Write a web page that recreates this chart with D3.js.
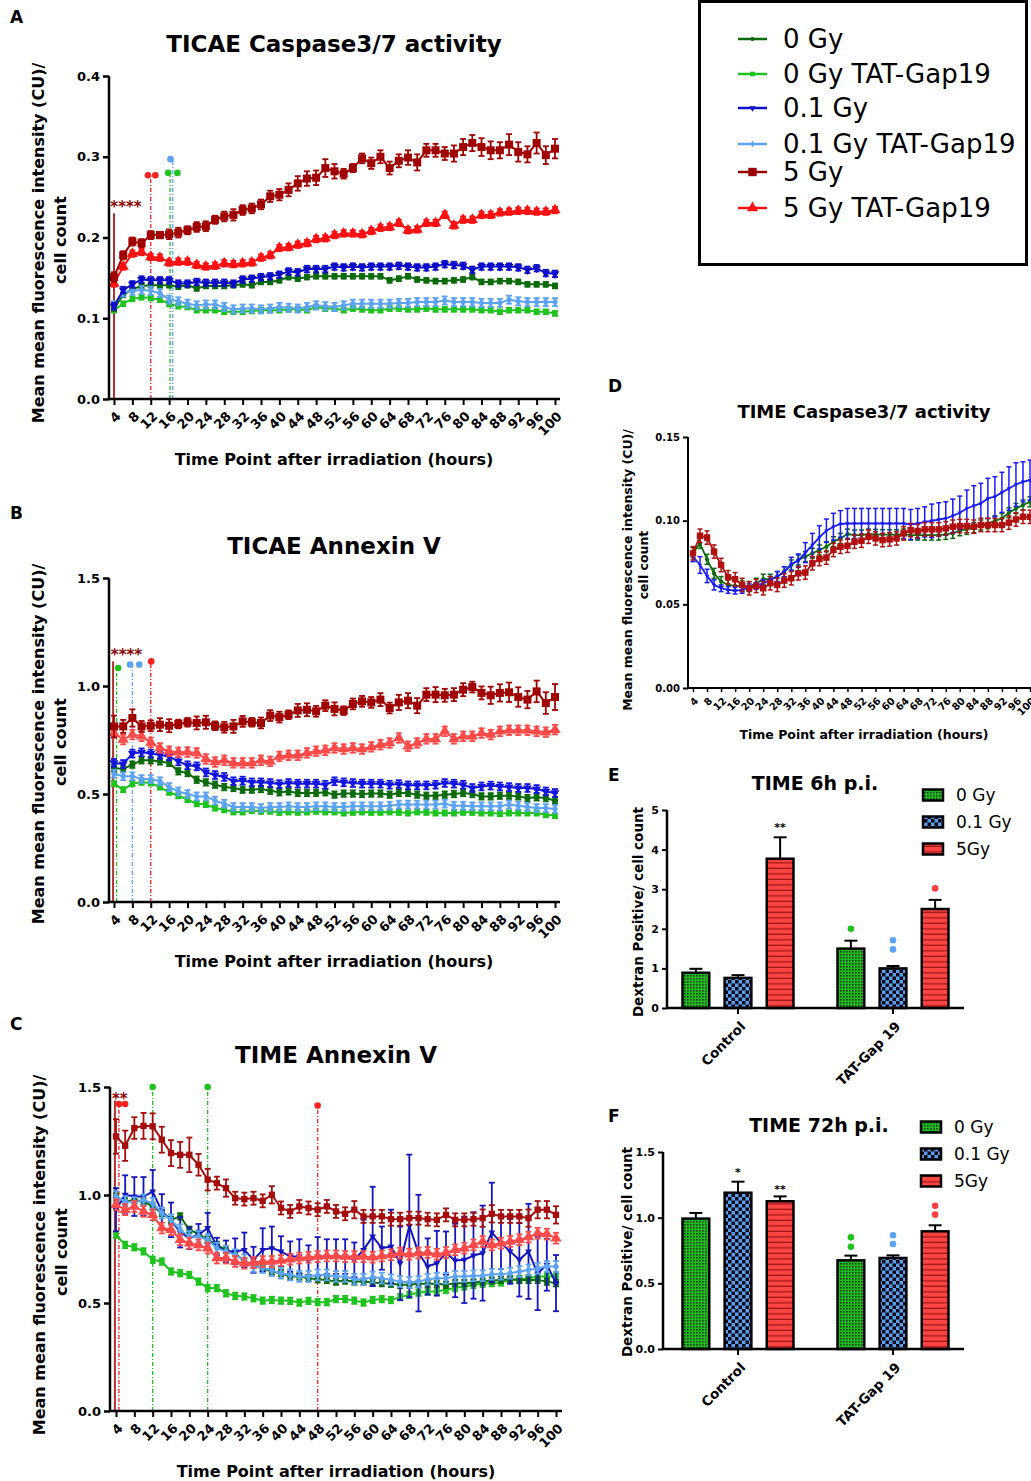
<!DOCTYPE html>
<html><head><meta charset="utf-8">
<script src="https://cdn.jsdelivr.net/npm/d3@7"></script>
<style>
body{margin:0;background:#fff}
svg{display:block}
text{font-family:"DejaVu Sans",Verdana,sans-serif}
</style>
</head><body>
<svg id="c" width="1031" height="1481"></svg>
<script>
// ---------------- DATA ----------------
const hours = [4,6,8,10,12,14,16,18,20,22,24,26,28,30,32,34,36,38,40,42,44,46,48,50,52,54,56,58,60,62,64,66,68,70,72,74,76,78,80,82,84,86,88,90,92,94,96,98,100];
const xTickHours = [4,8,12,16,20,24,28,32,36,40,44,48,52,56,60,64,68,72,76,80,84,88,92,96,100];
const seriesNames = ["0 Gy","0 Gy TAT-Gap19","0.1 Gy","0.1 Gy TAT-Gap19","5 Gy","5 Gy TAT-Gap19"];

// Panel A: TICAE Caspase3/7 activity
const A_0Gy = [0.112,0.129,0.136,0.140,0.141,0.141,0.141,0.139,0.141,0.137,0.140,0.140,0.140,0.141,0.142,0.141,0.145,0.145,0.147,0.151,0.149,0.151,0.152,0.152,0.152,0.152,0.152,0.152,0.152,0.152,0.147,0.149,0.152,0.148,0.147,0.146,0.146,0.147,0.148,0.151,0.145,0.145,0.146,0.146,0.145,0.142,0.142,0.142,0.140];
const A_0GyTAT = [0.110,0.118,0.124,0.126,0.125,0.123,0.118,0.115,0.114,0.110,0.110,0.110,0.108,0.108,0.108,0.109,0.110,0.110,0.110,0.111,0.111,0.110,0.114,0.112,0.112,0.110,0.112,0.111,0.110,0.110,0.112,0.112,0.111,0.111,0.112,0.111,0.111,0.111,0.111,0.111,0.110,0.110,0.108,0.110,0.110,0.110,0.108,0.108,0.106];
const A_01Gy = [0.115,0.135,0.142,0.148,0.147,0.147,0.147,0.143,0.143,0.145,0.144,0.144,0.144,0.143,0.148,0.149,0.151,0.152,0.154,0.158,0.157,0.161,0.161,0.161,0.164,0.163,0.164,0.163,0.164,0.164,0.164,0.165,0.164,0.163,0.163,0.164,0.167,0.166,0.165,0.160,0.164,0.164,0.164,0.164,0.163,0.160,0.162,0.156,0.155];
const A_01GyTAT = [0.116,0.132,0.134,0.135,0.134,0.131,0.123,0.121,0.118,0.116,0.117,0.117,0.114,0.111,0.112,0.112,0.111,0.112,0.114,0.113,0.112,0.114,0.116,0.115,0.114,0.116,0.118,0.118,0.118,0.118,0.118,0.119,0.119,0.120,0.120,0.120,0.122,0.120,0.120,0.120,0.119,0.119,0.119,0.123,0.121,0.120,0.120,0.120,0.120];
const A_5Gy = [0.151,0.178,0.195,0.193,0.203,0.203,0.204,0.206,0.209,0.213,0.214,0.222,0.226,0.228,0.234,0.236,0.241,0.251,0.253,0.259,0.267,0.273,0.274,0.286,0.282,0.279,0.286,0.298,0.292,0.300,0.286,0.295,0.299,0.293,0.308,0.308,0.304,0.304,0.312,0.317,0.312,0.308,0.308,0.315,0.306,0.303,0.317,0.302,0.310];
const A_5GyTAT = [0.143,0.164,0.180,0.182,0.176,0.175,0.169,0.170,0.170,0.166,0.164,0.165,0.168,0.167,0.168,0.169,0.175,0.178,0.187,0.188,0.191,0.193,0.198,0.199,0.203,0.205,0.205,0.204,0.208,0.212,0.213,0.218,0.209,0.210,0.218,0.218,0.228,0.215,0.222,0.222,0.228,0.228,0.231,0.232,0.233,0.233,0.232,0.232,0.234];
const A_5Gy_err = [0.006,0.005,0.005,0.005,0.005,0.004,0.006,0.006,0.005,0.006,0.006,0.005,0.006,0.007,0.006,0.006,0.006,0.007,0.007,0.008,0.009,0.009,0.009,0.011,0.009,0.006,0.005,0.006,0.007,0.008,0.008,0.008,0.009,0.010,0.008,0.008,0.008,0.010,0.010,0.010,0.011,0.011,0.010,0.013,0.012,0.010,0.013,0.011,0.012];
const A_err = {"0 Gy":0.003,"0 Gy TAT-Gap19":0.003,"0.1 Gy":0.004,"0.1 Gy TAT-Gap19":0.005,"5 Gy TAT-Gap19":0.004};
const A_sigLines = [{h:4,top:0.230,c:"5 Gy",solid:true},{h:12,top:0.276,c:"5 Gy TAT-Gap19"},{h:16.2,top:0.279,c:"0 Gy TAT-Gap19"},{h:16.8,top:0.296,c:"0.1 Gy TAT-Gap19"}];
const A_sigDots = [{h:11.4,v:0.277,c:"5 Gy TAT-Gap19"},{h:13.0,v:0.277,c:"5 Gy TAT-Gap19"},{h:15.8,v:0.280,c:"0 Gy TAT-Gap19"},{h:17.8,v:0.280,c:"0 Gy TAT-Gap19"},{h:16.3,v:0.297,c:"0.1 Gy TAT-Gap19"}];
const A_sigText = [{h:3.2,v:0.243,t:"****"}];

// Panel B: TICAE Annexin V
const B_0Gy = [0.620,0.616,0.636,0.656,0.656,0.651,0.644,0.605,0.597,0.566,0.554,0.543,0.532,0.528,0.520,0.520,0.523,0.515,0.508,0.512,0.505,0.505,0.505,0.508,0.497,0.502,0.502,0.500,0.502,0.502,0.497,0.505,0.505,0.497,0.492,0.492,0.497,0.500,0.505,0.500,0.489,0.489,0.492,0.492,0.489,0.481,0.485,0.481,0.469];
const B_0GyTAT = [0.548,0.520,0.548,0.554,0.551,0.532,0.508,0.492,0.474,0.455,0.451,0.435,0.427,0.417,0.417,0.423,0.420,0.420,0.415,0.417,0.415,0.417,0.420,0.417,0.417,0.412,0.415,0.417,0.415,0.415,0.417,0.415,0.412,0.417,0.415,0.412,0.412,0.412,0.415,0.415,0.412,0.412,0.409,0.412,0.412,0.412,0.412,0.404,0.400];
const B_01Gy = [0.644,0.639,0.687,0.693,0.687,0.681,0.674,0.651,0.633,0.628,0.600,0.588,0.579,0.559,0.562,0.554,0.554,0.551,0.546,0.551,0.548,0.548,0.548,0.543,0.559,0.554,0.551,0.548,0.548,0.548,0.543,0.546,0.540,0.540,0.540,0.543,0.551,0.548,0.543,0.528,0.535,0.539,0.535,0.532,0.528,0.528,0.523,0.512,0.505];
const B_01GyTAT = [0.594,0.582,0.582,0.569,0.569,0.559,0.532,0.512,0.500,0.489,0.489,0.469,0.455,0.440,0.440,0.440,0.435,0.440,0.440,0.443,0.440,0.440,0.443,0.443,0.440,0.440,0.443,0.443,0.443,0.443,0.446,0.451,0.451,0.451,0.451,0.451,0.455,0.446,0.446,0.443,0.443,0.443,0.443,0.451,0.446,0.440,0.435,0.435,0.431];
const B_5Gy = [0.813,0.813,0.852,0.813,0.816,0.821,0.816,0.824,0.832,0.829,0.832,0.816,0.809,0.813,0.836,0.832,0.829,0.863,0.856,0.867,0.887,0.890,0.883,0.909,0.894,0.886,0.917,0.929,0.924,0.937,0.898,0.924,0.932,0.909,0.960,0.960,0.957,0.960,0.983,0.995,0.968,0.957,0.968,0.971,0.949,0.937,0.975,0.921,0.949];
const B_5GyTAT = [0.782,0.752,0.775,0.767,0.739,0.713,0.698,0.693,0.694,0.690,0.662,0.648,0.656,0.644,0.644,0.644,0.656,0.651,0.674,0.679,0.679,0.690,0.698,0.702,0.713,0.708,0.713,0.708,0.718,0.728,0.736,0.759,0.721,0.736,0.755,0.755,0.790,0.755,0.767,0.767,0.782,0.775,0.790,0.795,0.795,0.795,0.790,0.786,0.798];
const B_5Gy_err = [0.05,0.03,0.04,0.025,0.025,0.03,0.03,0.02,0.02,0.03,0.03,0.02,0.025,0.03,0.025,0.02,0.025,0.025,0.025,0.02,0.03,0.03,0.025,0.025,0.03,0.02,0.025,0.025,0.025,0.03,0.025,0.035,0.035,0.035,0.03,0.035,0.03,0.03,0.03,0.025,0.03,0.04,0.04,0.045,0.045,0.04,0.05,0.05,0.06];
const B_err = {"0 Gy":0.015,"0 Gy TAT-Gap19":0.012,"0.1 Gy":0.018,"0.1 Gy TAT-Gap19":0.018,"5 Gy TAT-Gap19":0.022};
const B_sigLines = [{h:3.8,top:1.114,c:"5 Gy",solid:true},{h:4.56,top:1.083,c:"0 Gy TAT-Gap19"},{h:8,top:1.099,c:"0.1 Gy TAT-Gap19"},{h:12,top:1.114,c:"5 Gy TAT-Gap19"}];
const B_sigDots = [{h:4.9,v:1.083,c:"0 Gy TAT-Gap19"},{h:7.5,v:1.099,c:"0.1 Gy TAT-Gap19"},{h:9.5,v:1.099,c:"0.1 Gy TAT-Gap19"},{h:12.1,v:1.114,c:"5 Gy TAT-Gap19"}];
const B_sigText = [{h:3.3,v:1.160,t:"****"}];

// Panel C: TIME Annexin V
const C_0Gy = [0.993,0.970,0.977,0.970,0.947,0.917,0.885,0.901,0.839,0.820,0.793,0.769,0.746,0.731,0.692,0.677,0.661,0.646,0.638,0.623,0.623,0.615,0.610,0.607,0.599,0.604,0.599,0.599,0.595,0.592,0.589,0.584,0.584,0.589,0.589,0.589,0.584,0.592,0.592,0.595,0.599,0.604,0.607,0.610,0.607,0.607,0.607,0.599,0.592];
const C_0GyTAT = [0.816,0.769,0.758,0.739,0.700,0.692,0.646,0.638,0.630,0.599,0.569,0.569,0.545,0.533,0.530,0.522,0.511,0.514,0.511,0.510,0.502,0.510,0.504,0.504,0.518,0.518,0.511,0.502,0.514,0.518,0.514,0.527,0.538,0.548,0.553,0.553,0.561,0.569,0.576,0.584,0.589,0.592,0.595,0.607,0.610,0.615,0.623,0.623,0.623];
const C_01Gy = [0.932,1.001,0.993,0.993,1.016,0.924,0.885,0.827,0.800,0.816,0.847,0.762,0.739,0.739,0.746,0.700,0.746,0.754,0.739,0.715,0.715,0.697,0.715,0.715,0.715,0.715,0.700,0.746,0.808,0.754,0.762,0.684,0.857,0.731,0.669,0.684,0.731,0.697,0.700,0.720,0.731,0.827,0.777,0.739,0.700,0.739,0.637,0.677,0.592];
const C_01GyTAT = [0.993,0.970,0.965,0.977,0.962,0.917,0.885,0.839,0.808,0.808,0.793,0.754,0.739,0.723,0.700,0.669,0.664,0.650,0.638,0.630,0.623,0.623,0.630,0.630,0.623,0.623,0.610,0.610,0.620,0.615,0.607,0.599,0.595,0.599,0.610,0.615,0.615,0.623,0.623,0.626,0.626,0.633,0.633,0.638,0.646,0.653,0.661,0.669,0.669];
const C_5Gy = [1.271,1.228,1.310,1.320,1.318,1.256,1.194,1.186,1.186,1.140,1.071,1.055,1.032,0.985,0.981,0.985,0.973,1.001,0.940,0.924,0.947,0.940,0.932,0.947,0.924,0.913,0.932,0.901,0.901,0.901,0.888,0.888,0.893,0.893,0.888,0.885,0.908,0.885,0.885,0.888,0.893,0.913,0.901,0.901,0.901,0.893,0.932,0.932,0.908];
const C_5GyTAT = [0.955,0.932,0.947,0.924,0.908,0.847,0.839,0.793,0.777,0.769,0.754,0.708,0.708,0.692,0.684,0.687,0.692,0.692,0.697,0.703,0.708,0.712,0.715,0.718,0.718,0.715,0.715,0.715,0.712,0.718,0.723,0.731,0.726,0.731,0.734,0.726,0.734,0.746,0.754,0.769,0.785,0.769,0.777,0.785,0.793,0.805,0.823,0.819,0.800];
const C_5Gy_err = [0.08,0.07,0.05,0.06,0.06,0.06,0.06,0.06,0.08,0.05,0.05,0.03,0.04,0.03,0.03,0.03,0.03,0.04,0.03,0.03,0.03,0.03,0.03,0.03,0.03,0.03,0.04,0.03,0.03,0.03,0.03,0.03,0.03,0.03,0.03,0.03,0.03,0.03,0.03,0.03,0.04,0.04,0.03,0.03,0.03,0.04,0.04,0.04,0.04];
const C_01Gy_err = [0.10,0.09,0.09,0.09,0.10,0.08,0.08,0.07,0.05,0.05,0.07,0.04,0.05,0.06,0.08,0.06,0.10,0.10,0.07,0.07,0.08,0.07,0.09,0.08,0.08,0.08,0.08,0.14,0.23,0.10,0.17,0.17,0.33,0.27,0.13,0.15,0.10,0.17,0.20,0.20,0.22,0.23,0.12,0.15,0.17,0.22,0.17,0.12,0.13];
const C_err = {"0 Gy":0.015,"0 Gy TAT-Gap19":0.015,"0.1 Gy TAT-Gap19":0.025,"5 Gy TAT-Gap19":0.025};
const C_sigLines = [{h:3.76,top:1.438,c:"5 Gy",solid:true},{h:4.64,top:1.421,c:"5 Gy TAT-Gap19"},{h:12,top:1.5,c:"0 Gy TAT-Gap19"},{h:24,top:1.5,c:"0 Gy TAT-Gap19"},{h:48,top:1.414,c:"5 Gy TAT-Gap19"}];
const C_sigDots = [{h:4.64,v:1.421,c:"5 Gy TAT-Gap19"},{h:6.0,v:1.421,c:"5 Gy TAT-Gap19"},{h:12,v:1.5,c:"0 Gy TAT-Gap19"},{h:24,v:1.5,c:"0 Gy TAT-Gap19"},{h:48,v:1.414,c:"5 Gy TAT-Gap19"}];
const C_sigText = [{h:3.1,v:1.465,t:"**"}];

// Panel D: TIME Caspase3/7 activity
const D_0Gy = [0.0809,0.0864,0.0769,0.0685,0.0636,0.0616,0.0610,0.0610,0.0606,0.0626,0.0650,0.0650,0.0666,0.0695,0.0735,0.0765,0.0785,0.0805,0.0825,0.0844,0.0874,0.0894,0.0920,0.0914,0.0914,0.0920,0.0918,0.0916,0.0916,0.0916,0.0920,0.0914,0.0914,0.0914,0.0914,0.0914,0.0918,0.0924,0.0940,0.0948,0.0958,0.0974,0.0983,0.0999,0.1013,0.1047,0.1073,0.1093,0.1113];
const D_01Gy = [0.0785,0.0735,0.0670,0.0616,0.0596,0.0586,0.0582,0.0586,0.0602,0.0610,0.0626,0.0646,0.0666,0.0695,0.0741,0.0761,0.0809,0.0854,0.0900,0.0940,0.0964,0.0980,0.0983,0.0983,0.0983,0.0983,0.0983,0.0983,0.0983,0.0983,0.0983,0.0977,0.0983,0.0993,0.0999,0.1007,0.1013,0.1029,0.1047,0.1073,0.1089,0.1103,0.1133,0.1143,0.1169,0.1192,0.1216,0.1232,0.1242];
const D_5Gy = [0.0805,0.0910,0.0899,0.0815,0.0735,0.0662,0.0650,0.0616,0.0596,0.0610,0.0596,0.0626,0.0616,0.0642,0.0656,0.0685,0.0690,0.0745,0.0771,0.0779,0.0825,0.0844,0.0850,0.0874,0.0880,0.0904,0.0894,0.0884,0.0888,0.0894,0.0924,0.0944,0.0938,0.0948,0.0948,0.0948,0.0954,0.0964,0.0968,0.0968,0.0964,0.0974,0.0974,0.0974,0.0974,0.0988,0.1007,0.1023,0.1023];
const D_01Gy_err = [0.003,0.005,0.004,0.003,0.002,0.002,0.002,0.002,0.002,0.002,0.002,0.002,0.003,0.003,0.004,0.004,0.006,0.007,0.007,0.007,0.008,0.008,0.009,0.009,0.009,0.009,0.009,0.009,0.009,0.009,0.009,0.009,0.009,0.009,0.010,0.010,0.010,0.010,0.010,0.011,0.012,0.012,0.012,0.012,0.012,0.013,0.013,0.012,0.012];
const D_err = {"0 Gy":0.003,"5 Gy":0.004};

// Panels E, F: Dextran positive bars
const barGroups = ["Control","TAT-Gap 19"];
const barDoses = ["0 Gy","0.1 Gy","5Gy"];
const E_values = {"Control":[0.89,0.76,3.77],"TAT-Gap 19":[1.50,1.00,2.50]};
const E_errors = {"Control":[0.10,0.07,0.54],"TAT-Gap 19":[0.20,0.06,0.23]};
const E_stars = [{g:"Control",d:"5Gy",v:4.62,t:"**"}];
const E_dots = [{g:"TAT-Gap 19",d:"0 Gy",v:[2.0]},{g:"TAT-Gap 19",d:"0.1 Gy",v:[1.48,1.71]},{g:"TAT-Gap 19",d:"5Gy",v:[3.02]}];
const F_values = {"Control":[0.993,1.19,1.125],"TAT-Gap 19":[0.675,0.693,0.896]};
const F_errors = {"Control":[0.043,0.084,0.037],"TAT-Gap 19":[0.036,0.02,0.046]};
const F_stars = [{g:"Control",d:"0.1 Gy",v:1.36,t:"*"},{g:"Control",d:"5Gy",v:1.23,t:"**"}];
const F_dots = [{g:"TAT-Gap 19",d:"0 Gy",v:[0.779,0.850]},{g:"TAT-Gap 19",d:"0.1 Gy",v:[0.80,0.866]},{g:"TAT-Gap 19",d:"5Gy",v:[1.023,1.091]}];

// ---------------- STYLES ----------------
const style = {
  "0 Gy":{color:"#0b6b0b",shape:"circle",size:30},
  "0 Gy TAT-Gap19":{color:"#1ec31e",shape:"square",size:30},
  "0.1 Gy":{color:"#0b0bc8",shape:"tridown",size:34},
  "0.1 Gy TAT-Gap19":{color:"#5ca3f5",shape:"diamond",size:30},
  "5 Gy":{color:"#a00000",shape:"square",size:64},
  "5 Gy TAT-Gap19":{color:"#ff1010",shape:"triangle",size:55}
};
const sigColor = {"5 Gy":"#b03030","5 Gy TAT-Gap19":"#ff2020","0 Gy TAT-Gap19":"#1ec31e","0.1 Gy TAT-Gap19":"#5ca3f5"};
const FONT = '"DejaVu Sans",Verdana,sans-serif';

const svg = d3.select("#c");
const defs = svg.append("defs");

function symPath(shape, size){
  const t = {circle:d3.symbolCircle,square:d3.symbolSquare,triangle:d3.symbolTriangle,tridown:d3.symbolTriangle,diamond:d3.symbolDiamond}[shape];
  return d3.symbol().type(t).size(size)();
}

function txt(g, x, y, s, o){
  const t = g.append("text").attr("x",x).attr("y",y).text(s)
    .attr("font-size",o.size).attr("font-weight",o.bold?"bold":"normal")
    .attr("text-anchor",o.anchor||"start").attr("fill",o.color||"#000");
  if(o.rotate!==undefined) t.attr("transform",`rotate(${o.rotate},${x},${y})`);
  return t;
}

// ---------------- LINE PANELS ----------------
function linePanel(p){
  const g = svg.append("g");
  const x = d3.scaleLinear().domain([4,100]).range(p.xRange);
  const y = d3.scaleLinear().domain([0,p.yMax]).range([p.yBottom,p.yTop]);

  (p.sigLines||[]).forEach(l=>{
    g.append("line").attr("x1",x(l.h)).attr("x2",x(l.h)).attr("y1",y(0)).attr("y2",y(l.top))
      .attr("stroke",sigColor[l.c]).attr("stroke-width",l.solid?2:1.3)
      .attr("stroke-dasharray",l.solid?null:"4,2,1,2");
  });

  p.series.forEach(s=>{
    const st = style[s.name];
    const color = s.color || st.color;
    const pts = hours.map((h,i)=>({h, v:s.values[i], e:Array.isArray(s.err)?s.err[i]:s.err}));
    const eg = g.append("g").attr("stroke",color).attr("stroke-width",p.ebw||1.8);
    pts.forEach(d=>{
      const cx = x(d.h), y1 = y(d.v+d.e), y0 = y(d.v-d.e), cw = p.cap||3;
      eg.append("line").attr("x1",cx).attr("x2",cx).attr("y1",y0).attr("y2",y1);
      eg.append("line").attr("x1",cx-cw).attr("x2",cx+cw).attr("y1",y1).attr("y2",y1);
      eg.append("line").attr("x1",cx-cw).attr("x2",cx+cw).attr("y1",y0).attr("y2",y0);
    });
    g.append("path").datum(pts)
      .attr("d",d3.line().x(d=>x(d.h)).y(d=>y(d.v)).curve(p.curve||d3.curveLinear))
      .attr("fill","none").attr("stroke",color).attr("stroke-width",p.lw||2);
    const ms = (s.msize!==undefined)? s.msize : st.size*(p.mscale||1);
    if(ms>0){
      g.append("g").selectAll("path").data(pts).join("path")
        .attr("d",symPath(st.shape, ms))
        .attr("transform",d=>`translate(${x(d.h)},${y(d.v)})${st.shape==="tridown"?" rotate(180)":""}`)
        .attr("fill",color);
    }
  });

  (p.sigDots||[]).forEach(d=>{
    g.append("circle").attr("cx",x(d.h)).attr("cy",y(d.v)).attr("r",3.3).attr("fill",sigColor[d.c]);
  });
  (p.sigText||[]).forEach(d=>{
    txt(g,x(d.h),y(d.v)+9,d.t,{size:15,bold:true,color:"#8b0000"});
  });

  const ya = g.append("g").attr("transform",`translate(${p.x0},0)`)
    .call(d3.axisLeft(y).tickValues(p.yTicks).tickFormat(d3.format(p.fmt)).tickSize(p.tick||6).tickSizeOuter(0));
  ya.select(".domain").attr("stroke-width",p.axw||2.5).attr("d",`M0,${p.yBottom}V${p.yTop}`);
  ya.selectAll(".tick line").attr("stroke-width",p.axw||2.5);
  ya.selectAll(".tick text").attr("font-family",FONT).attr("font-weight","bold").attr("font-size",p.ytf).attr("x",-(p.tick||6)-3);

  const xa = g.append("g").attr("transform",`translate(0,${p.yBottom})`)
    .call(d3.axisBottom(x).tickValues(xTickHours).tickSize(p.xtick||6).tickSizeOuter(0));
  xa.select(".domain").attr("stroke-width",p.axw||2.5).attr("d",`M${p.x0},0H${p.x1}`);
  xa.selectAll(".tick line").attr("stroke-width",p.xtw||2);
  xa.selectAll(".tick text").attr("font-family",FONT).attr("font-weight","bold").attr("font-size",p.xtf)
    .attr("text-anchor","end").attr("x",0).attr("y",0).attr("dy","0.35em")
    .attr("transform",`translate(${p.xlo[0]},${p.xlo[1]}) rotate(-45)`);

  txt(g,p.letter[1],p.letter[2],p.letter[0],{size:17,bold:true});
  txt(g,p.title[1],p.title[2],p.title[0],{size:p.titleSize,bold:true,anchor:"middle"});
  txt(g,p.xlab[0],p.xlab[1],"Time Point after irradiation (hours)",{size:p.xlabSize,bold:true,anchor:"middle"});
  txt(g,p.ylab1[0],p.ylab1[1],"Mean mean fluorescence intensity (CU)/",{size:p.ylabSize,bold:true,anchor:"middle",rotate:-90});
  txt(g,p.ylab2[0],p.ylab2[1],"cell count",{size:p.ylabSize,bold:true,anchor:"middle",rotate:-90});
}

const red2 = "#ff4a4a";
linePanel({
  x0:109,x1:560,xRange:[114,555],yTop:76,yBottom:399,yMax:0.4,yTicks:[0,0.1,0.2,0.3,0.4],fmt:".1f",
  ytf:13,xtf:13,xlo:[4,15],letter:["A",10,23],title:["TICAE Caspase3/7 activity",334,52],titleSize:23,
  xlab:[334,465],xlabSize:16,ylab1:[44,243],ylab2:[66,240],ylabSize:16,
  series:[
    {name:"0 Gy TAT-Gap19",values:A_0GyTAT,err:A_err["0 Gy TAT-Gap19"]},
    {name:"0 Gy",values:A_0Gy,err:A_err["0 Gy"]},
    {name:"0.1 Gy TAT-Gap19",values:A_01GyTAT,err:A_err["0.1 Gy TAT-Gap19"]},
    {name:"0.1 Gy",values:A_01Gy,err:A_err["0.1 Gy"]},
    {name:"5 Gy TAT-Gap19",values:A_5GyTAT,err:A_err["5 Gy TAT-Gap19"]},
    {name:"5 Gy",values:A_5Gy,err:A_5Gy_err}
  ],
  sigLines:A_sigLines,sigDots:A_sigDots,sigText:A_sigText
});
linePanel({
  x0:109,x1:560,xRange:[114,555],yTop:578,yBottom:902,yMax:1.5,yTicks:[0,0.5,1.0,1.5],fmt:".1f",
  ytf:13,xtf:13,xlo:[4,15],letter:["B",10,519],title:["TICAE Annexin V",334,554],titleSize:23,
  xlab:[334,967],xlabSize:16,ylab1:[44,744],ylab2:[66,742],ylabSize:16,
  series:[
    {name:"0 Gy TAT-Gap19",values:B_0GyTAT,err:B_err["0 Gy TAT-Gap19"]},
    {name:"0 Gy",values:B_0Gy,err:B_err["0 Gy"]},
    {name:"0.1 Gy TAT-Gap19",values:B_01GyTAT,err:B_err["0.1 Gy TAT-Gap19"]},
    {name:"0.1 Gy",values:B_01Gy,err:B_err["0.1 Gy"],color:"#1414e0"},
    {name:"5 Gy TAT-Gap19",values:B_5GyTAT,err:B_err["5 Gy TAT-Gap19"],color:red2},
    {name:"5 Gy",values:B_5Gy,err:B_5Gy_err}
  ],
  sigLines:B_sigLines,sigDots:B_sigDots,sigText:B_sigText
});
linePanel({
  x0:110,x1:562,xRange:[116,556],yTop:1087,yBottom:1411,yMax:1.5,yTicks:[0,0.5,1.0,1.5],fmt:".1f",
  ytf:13,xtf:13,xlo:[4,15],letter:["C",10,1030],title:["TIME Annexin V",336,1063],titleSize:23,
  xlab:[336,1477],xlabSize:16,ylab1:[45,1255],ylab2:[67,1252],ylabSize:16,
  series:[
    {name:"0 Gy TAT-Gap19",values:C_0GyTAT,err:C_err["0 Gy TAT-Gap19"]},
    {name:"0 Gy",values:C_0Gy,err:C_err["0 Gy"]},
    {name:"0.1 Gy",values:C_01Gy,err:C_01Gy_err,color:"#1515c0",msize:20},
    {name:"0.1 Gy TAT-Gap19",values:C_01GyTAT,err:C_err["0.1 Gy TAT-Gap19"]},
    {name:"5 Gy TAT-Gap19",values:C_5GyTAT,err:C_err["5 Gy TAT-Gap19"],color:red2},
    {name:"5 Gy",values:C_5Gy,err:C_5Gy_err,color:"#a50d0d",msize:40}
  ],
  sigLines:C_sigLines,sigDots:C_sigDots,sigText:C_sigText
});
linePanel({
  x0:688,x1:1040,xRange:[693,1030],yTop:437,yBottom:688,yMax:0.15,yTicks:[0,0.05,0.10,0.15],fmt:".2f",
  ytf:10,xtf:10,xlo:[3,11],tick:5,xtick:4,axw:2,xtw:1.5,cap:2.5,ebw:1.5,lw:1.8,
  letter:["D",608,392],title:["TIME Caspase3/7 activity",864,418],titleSize:18,
  xlab:[864,739],xlabSize:12.5,ylab1:[632,570],ylab2:[648,565],ylabSize:12.5,
  series:[
    {name:"0 Gy",values:D_0Gy,err:D_err["0 Gy"],msize:14},
    {name:"0.1 Gy",values:D_01Gy,err:D_01Gy_err,color:"#1a1aff",msize:8},
    {name:"5 Gy",values:D_5Gy,err:D_err["5 Gy"],color:"#b01010",msize:42}
  ]
});

// ---------------- MAIN LEGEND ----------------
(function(){
  const g = svg.append("g");
  g.append("rect").attr("x",699.5).attr("y",1.5).attr("width",327).attr("height",263)
    .attr("fill","#fff").attr("stroke","#000").attr("stroke-width",3);
  const ys = [39,74,108,144,172,208];
  const legColor = {"5 Gy TAT-Gap19":"#ff1010","0.1 Gy":"#1010d0","5 Gy":"#9b0000"};
  const legSize = {"0 Gy":14,"0 Gy TAT-Gap19":22,"0.1 Gy":18,"0.1 Gy TAT-Gap19":14,"5 Gy":70,"5 Gy TAT-Gap19":55};
  seriesNames.forEach((n,i)=>{
    const st = style[n], c = legColor[n]||st.color, yy = ys[i];
    g.append("line").attr("x1",738).attr("x2",767).attr("y1",yy).attr("y2",yy).attr("stroke",c).attr("stroke-width",2.5);
    g.append("path").attr("d",symPath(st.shape,legSize[n]))
      .attr("transform",`translate(752.5,${yy})${st.shape==="tridown"?" rotate(180)":""}`).attr("fill",c);
    txt(g,783,yy+9,n,{size:26});
  });
})();

// ---------------- BAR PANELS ----------------
(function(){
  const pg = defs.append("pattern").attr("id","pGreen").attr("patternUnits","userSpaceOnUse").attr("width",3).attr("height",3);
  pg.append("rect").attr("width",3).attr("height",3).attr("fill","#22b822");
  pg.append("rect").attr("width",1.5).attr("height",1.5).attr("fill","#063806");
  const pb = defs.append("pattern").attr("id","pBlue").attr("patternUnits","userSpaceOnUse").attr("width",7).attr("height",7);
  pb.append("rect").attr("width",7).attr("height",7).attr("fill","#5b9ef0");
  pb.append("rect").attr("width",3.5).attr("height",3.5).attr("fill","#0a0a14");
  pb.append("rect").attr("x",3.5).attr("y",3.5).attr("width",3.5).attr("height",3.5).attr("fill","#0a0a14");
  const pr = defs.append("pattern").attr("id","pRed").attr("patternUnits","userSpaceOnUse").attr("width",6).attr("height",5.5);
  pr.append("rect").attr("width",6).attr("height",5.5).attr("fill","#ff4444");
  pr.append("rect").attr("y",4.2).attr("width",6).attr("height",1.3).attr("fill","#a01818");
})();
const barFill = {"0 Gy":"url(#pGreen)","0.1 Gy":"url(#pBlue)","5Gy":"url(#pRed)"};
const dotColor = {"0 Gy":"#1ec31e","0.1 Gy":"#5ca3f5","5Gy":"#ff4040"};

function barPanel(p){
  const g = svg.append("g");
  const x0 = d3.scaleBand().domain(barGroups).range([667,964]).paddingInner(0.284).paddingOuter(0.1);
  const x1 = d3.scaleBand().domain(barDoses).range([0,x0.bandwidth()]).paddingInner(0.365).paddingOuter(0);
  const y = d3.scaleLinear().domain([0,p.yMax]).range([p.yBottom,p.yTop]);

  barGroups.forEach(gr=>{
    barDoses.forEach((d,i)=>{
      const v = p.values[gr][i], e = p.errors[gr][i];
      const bx = x0(gr)+x1(d), bw = x1.bandwidth(), cx = bx+bw/2;
      g.append("line").attr("x1",cx).attr("x2",cx).attr("y1",y(v)).attr("y2",y(v+e)).attr("stroke","#000").attr("stroke-width",2);
      g.append("line").attr("x1",cx-6.5).attr("x2",cx+6.5).attr("y1",y(v+e)).attr("y2",y(v+e)).attr("stroke","#000").attr("stroke-width",2);
      g.append("rect").attr("x",bx).attr("y",y(v)).attr("width",bw).attr("height",y(0)-y(v))
        .attr("fill",barFill[d]).attr("stroke","#000").attr("stroke-width",2.5);
    });
  });
  p.stars.forEach(s=>{
    txt(g,x0(s.g)+x1(s.d)+x1.bandwidth()/2,y(s.v)+6,s.t,{size:11,bold:true,anchor:"middle"});
  });
  p.dots.forEach(s=>{
    s.v.forEach(v=>g.append("circle").attr("cx",x0(s.g)+x1(s.d)+x1.bandwidth()/2).attr("cy",y(v)).attr("r",3.3).attr("fill",dotColor[s.d]));
  });

  const ya = g.append("g").attr("transform",`translate(${p.x0},0)`)
    .call(d3.axisLeft(y).tickValues(p.yTicks).tickFormat(d3.format(p.fmt)).tickSize(5).tickSizeOuter(0));
  ya.select(".domain").attr("stroke-width",2.5).attr("d",`M0,${p.yBottom}V${p.yTop}`);
  ya.selectAll(".tick line").attr("stroke-width",2);
  ya.selectAll(".tick text").attr("font-family",FONT).attr("font-weight","bold").attr("font-size",11).attr("x",-8);
  const xa = g.append("g").attr("transform",`translate(0,${p.yBottom})`)
    .call(d3.axisBottom(x0).tickSize(6).tickSizeOuter(0));
  xa.select(".domain").attr("stroke-width",2.5).attr("d",`M${p.x0},0H964`);
  xa.selectAll(".tick line").attr("stroke-width",2);
  xa.selectAll(".tick text").attr("font-family",FONT).attr("font-weight","bold").attr("font-size",13.5)
    .attr("text-anchor","end").attr("x",0).attr("y",0).attr("dy","0.35em")
    .attr("transform","translate(5,16) rotate(-45)");

  txt(g,p.letter[1],p.letter[2],p.letter[0],{size:17,bold:true});
  txt(g,p.title[1],p.title[2],p.title[0],{size:19,bold:true,anchor:"middle"});
  txt(g,p.ylab[0],p.ylab[1],"Dextran Positive/ cell count",{size:13.5,bold:true,anchor:"middle",rotate:-90});

  barDoses.forEach((d,i)=>{
    const yy = p.legY[i];
    g.append("rect").attr("x",p.legX).attr("y",yy-5.5).attr("width",20).attr("height",11)
      .attr("fill",barFill[d]).attr("stroke","#000").attr("stroke-width",2.5);
    txt(g,p.legX+33,yy+6,d,{size:17});
  });
}

barPanel({x0:667,yTop:810,yBottom:1008,yMax:5,yTicks:[0,1,2,3,4,5],fmt:"d",
  values:E_values,errors:E_errors,stars:E_stars,dots:E_dots,
  letter:["E",608,781],title:["TIME 6h p.i.",815,790],ylab:[643,912],legX:923,legY:[795,822,849]});
barPanel({x0:663,yTop:1152,yBottom:1349,yMax:1.5,yTicks:[0,0.5,1.0,1.5],fmt:".1f",
  values:F_values,errors:F_errors,stars:F_stars,dots:F_dots,
  letter:["F",608,1122],title:["TIME 72h p.i.",819,1132],ylab:[632,1252],legX:921,legY:[1127,1154,1181]});
</script>
</body></html>
